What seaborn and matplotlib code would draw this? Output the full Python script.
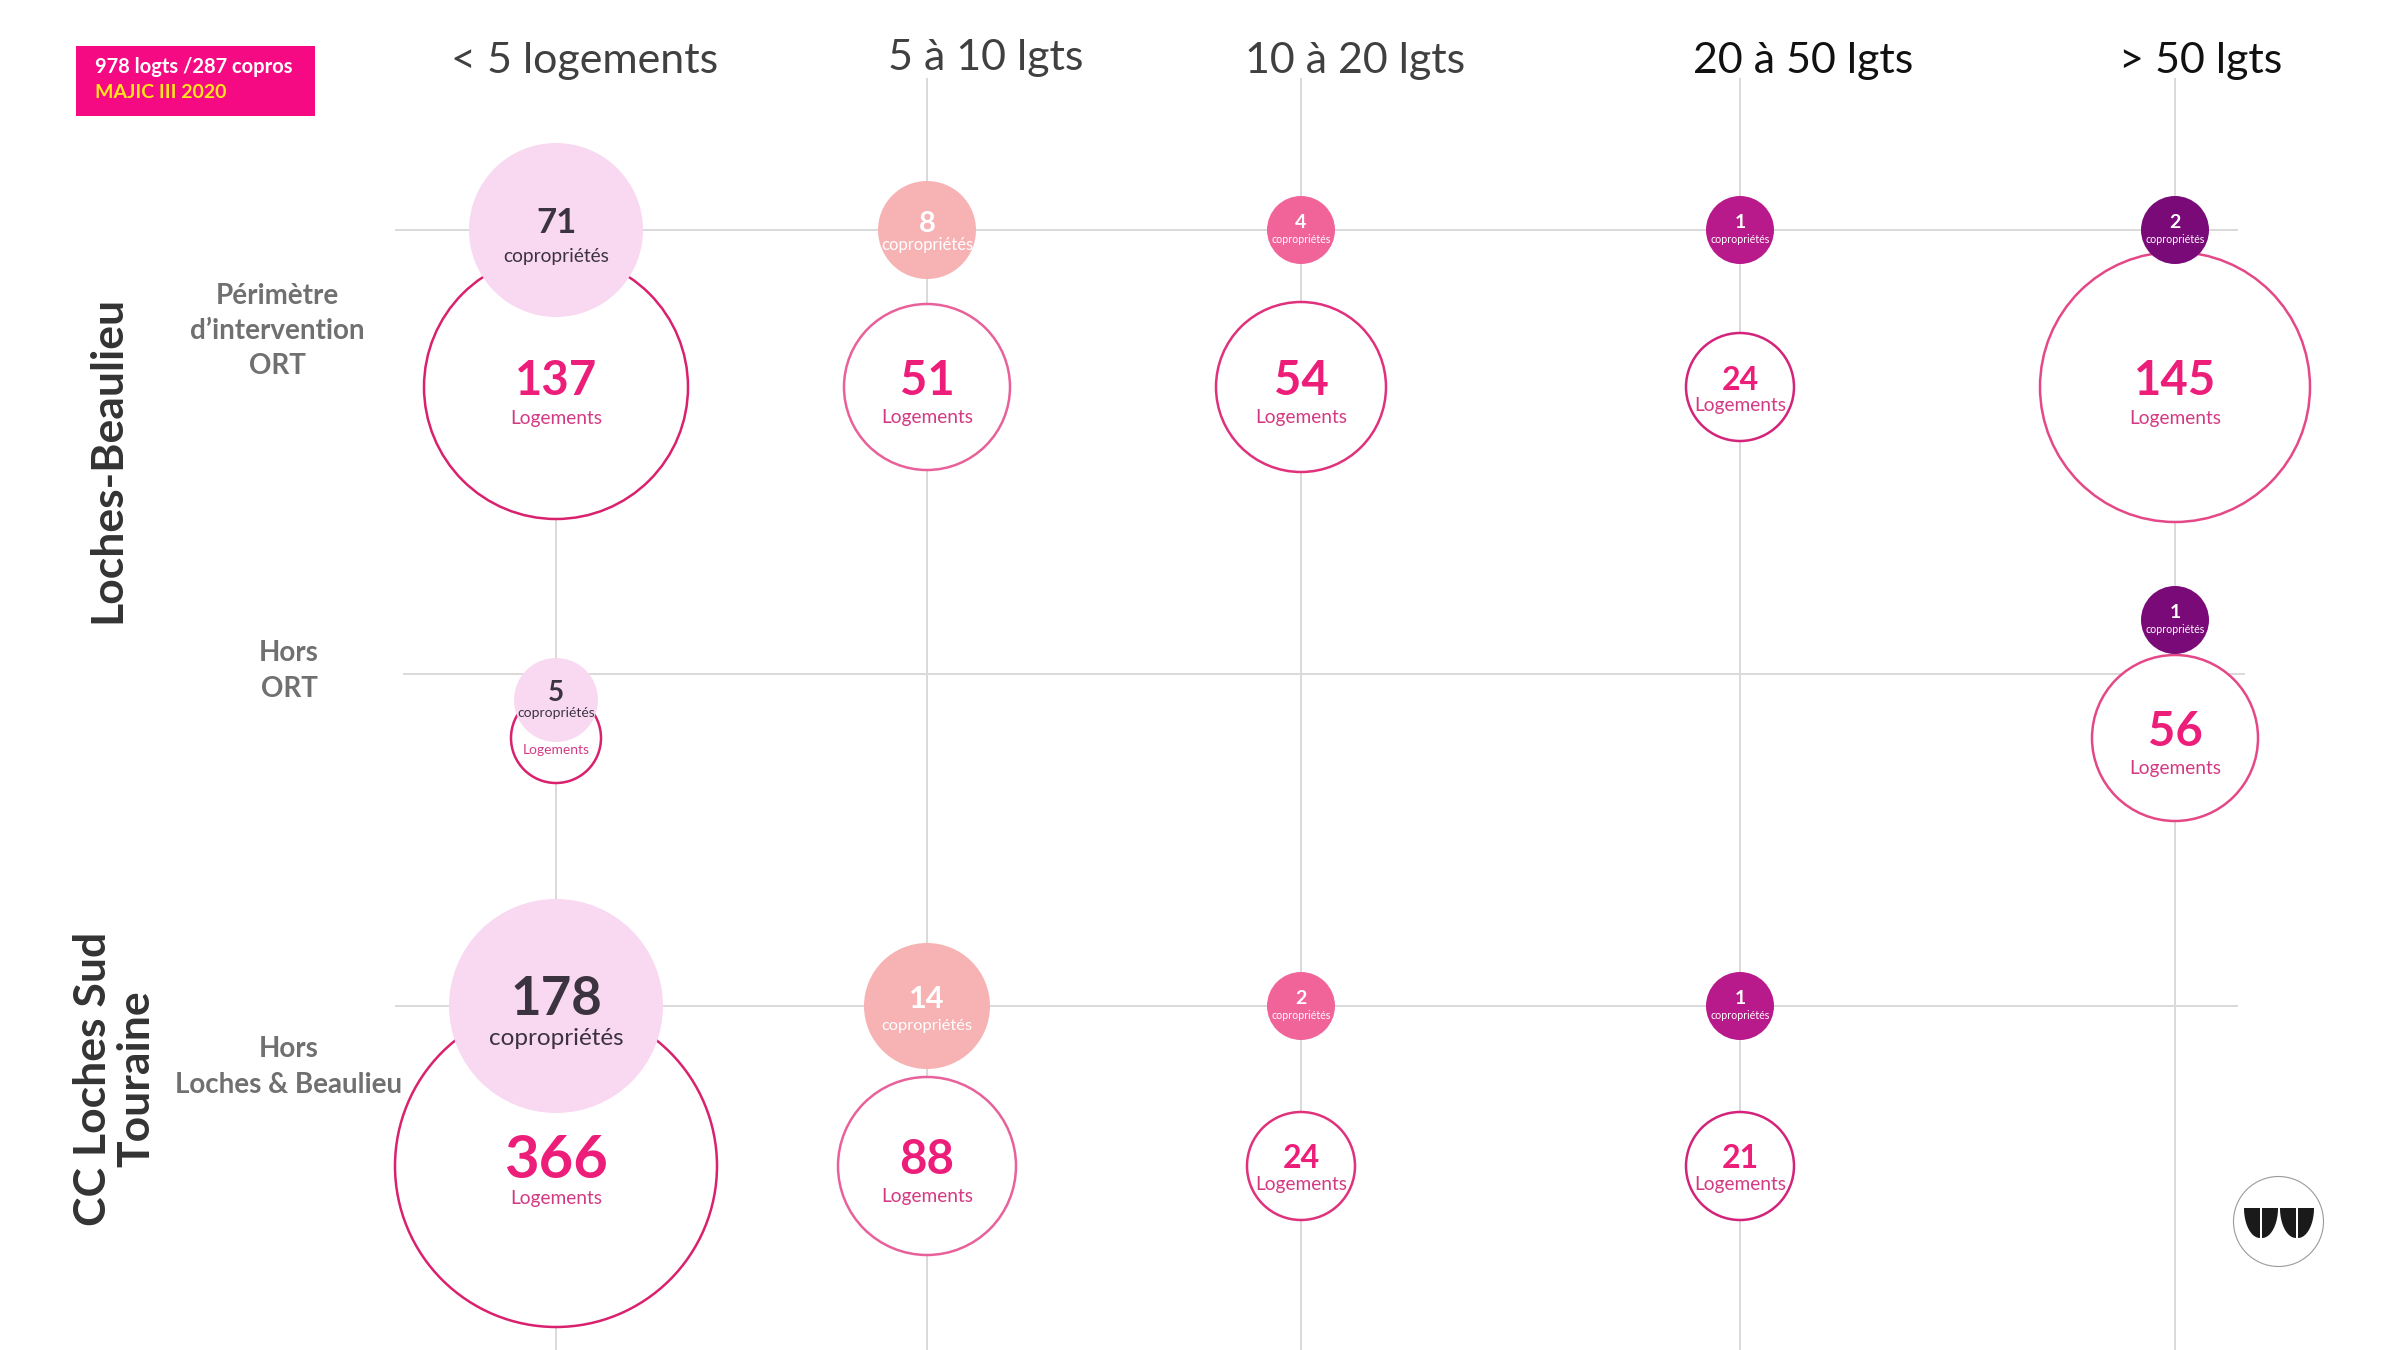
"""
Copropriétés par taille - Loches Sud Touraine (MAJIC III 2020)
bubble grid : copropriétés (filled) + logements (outlined)
"""

import numpy as np
import pandas as pd
import matplotlib
matplotlib.use("Agg")
import matplotlib.pyplot as plt
from matplotlib.patches import Rectangle
import seaborn as sns

# ---- data -------------------------------------------------------------
tailles = ["< 5 logements", "5 à 10 lgts", "10 à 20 lgts", "20 à 50 lgts", "> 50 lgts"]
secteurs = ["ORT", "Hors ORT", "Hors Loches & Beaulieu"]

cell_secteur = ["ORT"] * 5 + ["Hors ORT"] * 2 + ["Hors Loches & Beaulieu"] * 4
cell_taille = tailles + ["< 5 logements", "> 50 lgts"] + tailles[:4]
nb_copros = [71, 8, 4, 1, 2, 5, 1, 178, 14, 2, 1]
nb_logements = [137, 51, 54, 24, 145, 12, 56, 366, 88, 24, 21]

total_logts = 978
total_copros = 287
source = "MAJIC III 2020"

row_labels = ["Périmètre\nd’intervention\nORT", "Hors\nORT", "Hors\nLoches & Beaulieu"]
group_labels = ["Loches-Beaulieu", "CC Loches Sud\nTouraine"]

# ---- layout (figure pixels, y down) ------------------------------------
DPI = 100
col_x = dict(zip(tailles, [556, 927, 1301, 1740, 2175]))
header_x = dict(zip(tailles, [585, 986, 1355, 1803, 2201]))
header_y = dict(zip(tailles, [61, 58, 61, 61, 61]))
line_y = {"ORT": 230, "Hors ORT": 674, "Hors Loches & Beaulieu": 1006}
logt_y = {"ORT": 387, "Hors ORT": 738, "Hors Loches & Beaulieu": 1166}
# in the "Hors ORT" row the copro bubbles sit off the row line
copro_y_hors_ort = {"< 5 logements": 700, "> 50 lgts": 620}

# bubble radius scales (px)
r_copro = {1: 34, 2: 34, 4: 34, 5: 42, 8: 49, 14: 63, 71: 87, 178: 107}
r_logt = {12: 45, 21: 54, 24: 54, 51: 83, 54: 85, 56: 83, 88: 89,
          137: 132, 145: 135, 366: 161}

copro_fill = dict(zip(tailles, ["#f9d8f1", "#f7b2b4", "#f0649a", "#b8198b", "#790a78"]))
logt_edge = dict(zip(tailles, ["#d9216e", "#e8619a", "#e0317c", "#d4237a", "#e54886"]))
copro_txt = dict(zip(tailles, ["#3b3340", "white", "white", "white", "white"]))
header_col = dict(zip(tailles, ["#404040", "#404040", "#404040", "#111111", "#111111"]))


def area(r):
    # radius in pixels -> scatter marker area in pt^2
    return (2 * r * 72 / DPI) ** 2


df = pd.DataFrame({"secteur": cell_secteur, "taille": cell_taille,
                   "copros": nb_copros, "logements": nb_logements})
df["x"] = df["taille"].map(col_x)
df["y_logt"] = df["secteur"].map(logt_y)
df["y_copro"] = df["secteur"].map(line_y).astype(float)
hors = df["secteur"] == "Hors ORT"
df.loc[hors, "y_copro"] = df.loc[hors, "taille"].map(copro_y_hors_ort)
df["r_logt"] = df["logements"].map(r_logt)
df["r_copro"] = df["copros"].map(r_copro)

sns.set_style("white")
plt.rcParams["font.family"] = ["Lato", "DejaVu Sans"]

fig = plt.figure(figsize=(24, 13.5), dpi=DPI)
ax = fig.add_axes([0, 0, 1, 1])

# grid lines
for t in tailles:
    top = line_y["ORT"] if t == tailles[0] else 78
    ax.vlines(col_x[t], top, 1350, color="#d9d9d9", lw=1.4, zorder=1)
ax.hlines(line_y["ORT"], 395, 2238, color="#d9d9d9", lw=1.4, zorder=1)
ax.hlines(line_y["Hors ORT"], 403, 2245, color="#d9d9d9", lw=1.4, zorder=1)
ax.hlines(line_y["Hors Loches & Beaulieu"], 395, 2238, color="#d9d9d9", lw=1.4, zorder=1)

# logements bubbles (outlined)
sns.scatterplot(data=df, x="x", y="y_logt", size="logements",
                sizes={v: area(r) for v, r in r_logt.items()},
                color="white", edgecolor=[logt_edge[t] for t in df["taille"]],
                linewidth=1.8, legend=False, ax=ax, zorder=2)

# copropriétés bubbles (filled)
sns.scatterplot(data=df, x="x", y="y_copro", hue="taille", hue_order=tailles,
                palette=copro_fill, size="copros",
                sizes={v: area(r) for v, r in r_copro.items()},
                linewidth=0, legend=False, ax=ax, zorder=4)

# labels inside bubbles
for _, row in df.iterrows():
    r = row["r_logt"]
    fs_n = np.interp(r, [45, 54, 83, 135, 161], [14, 23, 34, 34, 43])
    fs_l = np.interp(r, [45, 54], [10, 13.8])
    yn = row["y_logt"] - 9
    ax.text(row["x"], yn + fs_n * 0.5, str(row["logements"]), ha="center", va="baseline",
            fontsize=fs_n, fontweight="bold", color="#ec1e79", zorder=3)
    yl = row["y_logt"] + np.interp(r, [45, 54, 83, 161], [12, 18, 30, 32])
    ax.text(row["x"], yl + fs_l * 0.42, "Logements", ha="center", va="baseline",
            fontsize=fs_l, color="#d43a83", zorder=3)

    rc = row["r_copro"]
    fs_n = np.interp(rc, [34, 42, 49, 63, 87, 107], [14, 20, 21, 22, 25, 38])
    fs_l = np.interp(rc, [34, 42, 49, 63, 87, 107], [7.7, 10, 12, 11.8, 13.8, 17.5])
    col = copro_txt[row["taille"]]
    yn = row["y_copro"] - 8 - 0.02 * rc
    ax.text(row["x"], yn + fs_n * 0.5, str(row["copros"]), ha="center", va="baseline",
            fontsize=fs_n, fontweight="bold", color=col, zorder=5)
    yl = row["y_copro"] + 0.3 * rc
    ax.text(row["x"], yl + fs_l * 0.42, "copropriétés", ha="center", va="baseline",
            fontsize=fs_l, color=col, zorder=5)

# column headers
for t in tailles:
    ax.text(header_x[t], header_y[t], t, ha="center", va="center",
            fontsize=31, color=header_col[t])

# row labels
for lab, (x, y) in zip(row_labels, [(277, 331), (289, 671), (289, 1067)]):
    ax.text(x, y, lab, ha="center", va="center", fontsize=20, fontweight="bold",
            color="#707070", linespacing=1.45, multialignment="center")
for lab, (x, y) in zip(group_labels, [(107, 459), (115, 1079)]):
    ax.text(x, y, lab, ha="center", va="center", rotation=90, fontsize=32,
            fontweight="bold", color="#333333", linespacing=1.1,
            multialignment="center")

# source box
ax.add_patch(Rectangle((76, 46), 239, 70, facecolor="#f50a84", edgecolor="none", zorder=6))
ax.text(95, 67, f"{total_logts} logts /{total_copros} copros", ha="left", va="center",
        fontsize=14.5, fontweight="bold", color="white", zorder=7)
ax.text(95, 93, source, ha="left", va="center",
        fontsize=14, fontweight="bold", color="#ffe51a", zorder=7)

# logo (bottom right)
ax.scatter([2278], [1221], s=area(45), facecolor="white", edgecolor="#9a9a9a",
           linewidth=0.8, zorder=6)
t = np.linspace(0, np.pi / 2, 30)
for xv, side in [(2260, -1), (2262, 1), (2296, -1), (2298, 1)]:
    w, yt, h = 16, 1208, 30
    xs = np.r_[xv, xv, xv + side * w * np.cos(t)]
    ys = np.r_[yt + h, yt, yt + h * np.sin(t)]
    ax.fill(xs, ys, color="#1a1a1a", lw=0, zorder=7)

ax.set_xlim(0, 2400)
ax.set_ylim(1350, 0)
ax.axis("off")

fig.savefig("out.png", dpi=DPI)
